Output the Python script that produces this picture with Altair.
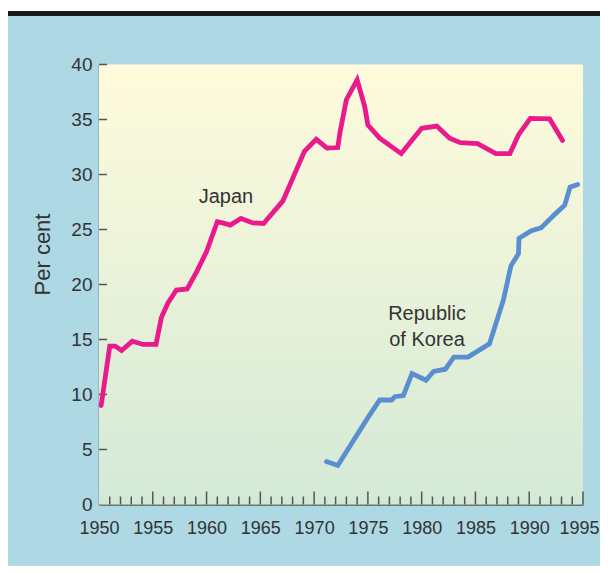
import altair as alt
import pandas as pd

# ---- data ----
japan_years = [1950.2, 1951.0, 1951.5, 1952.1, 1953.1, 1954.1, 1955.3, 1955.8, 1956.4, 1957.2,
               1958.2, 1959.1, 1960.0, 1961.0, 1961.5, 1962.2, 1963.2, 1964.3, 1965.3, 1967.1,
               1968.1, 1969.1, 1970.2, 1971.2, 1972.2, 1972.4, 1973.0, 1974.0, 1974.7, 1975.0,
               1976.1, 1978.1, 1980.0, 1981.4, 1982.6, 1983.6, 1985.2, 1986.9, 1988.2, 1989.0,
               1990.1, 1991.9, 1993.1]
japan_values = [9.0, 14.4, 14.4, 14.0, 14.85, 14.55, 14.55, 17.0, 18.3, 19.5,
                19.6, 21.2, 23.0, 25.7, 25.6, 25.4, 26.0, 25.6, 25.55, 27.6,
                29.85, 32.1, 33.2, 32.4, 32.45, 33.8, 36.8, 38.6, 36.2, 34.5,
                33.3, 31.9, 34.2, 34.4, 33.3, 32.9, 32.8, 31.9, 31.9, 33.6,
                35.1, 35.05, 33.1]

korea_years = [1971.15, 1972.2, 1975.0, 1976.1, 1977.2, 1977.5, 1978.3, 1979.1, 1980.4, 1981.1,
               1982.2, 1983.0, 1984.3, 1986.3, 1987.6, 1988.3, 1989.0, 1989.05, 1990.2, 1991.1,
               1992.4, 1993.3, 1993.8, 1994.5]
korea_values = [3.9, 3.55, 7.9, 9.5, 9.5, 9.8, 9.9, 11.9, 11.3, 12.1,
                12.3, 13.4, 13.4, 14.6, 18.6, 21.7, 22.8, 24.2, 24.9, 25.15,
                26.4, 27.2, 28.85, 29.1]

x_tick_labels = [1950, 1955, 1960, 1965, 1970, 1975, 1980, 1985, 1990, 1995]
y_tick_labels = [0, 5, 10, 15, 20, 25, 30, 35, 40]
minor_years = list(range(1951, 1996))

series_labels = ["Japan", "Republic\nof Korea"]
label_x = [1961.8, 1980.5]
label_y = [27.45, 16.75]

# ---- tables ----
lines_df = pd.DataFrame({
    "year": japan_years + korea_years,
    "value": japan_values + korea_values,
    "series": ["Japan"] * len(japan_years) + ["Republic of Korea"] * len(korea_years),
})
minor_df = pd.DataFrame({"year": [y for y in minor_years if y % 5 != 0]})
major_df = pd.DataFrame({"year": [y for y in minor_years if y % 5 == 0]})
yt_df = pd.DataFrame({"value": [v for v in y_tick_labels if v > 0]})
lab_df = pd.DataFrame({"year": label_x, "value": label_y, "text": series_labels})

W, H = 484, 440
AX = "#555555"
TXT = "#333333"
FONT = "Liberation Sans"

xs = alt.Scale(domain=[1950, 1995], nice=False, zero=False)
ys = alt.Scale(domain=[0, 40], nice=False)

one = pd.DataFrame({"a": [0]})

bg = alt.Chart(one).mark_rect(
    fill=alt.Gradient(
        gradient="linear", x1=0, y1=0, x2=0, y2=1,
        stops=[alt.GradientStop(color="#FFFBDC", offset=0),
               alt.GradientStop(color="#D3E9D7", offset=1)],
    )
).encode(x=alt.value(0), x2=alt.value(W), y=alt.value(0), y2=alt.value(H))

lines = alt.Chart(lines_df).mark_line(strokeWidth=4.8, strokeCap="round", strokeJoin="miter").encode(
    x=alt.X("year:Q", scale=xs, axis=alt.Axis(
        values=x_tick_labels, format="d", title=None, ticks=False, tickSize=0,
        labelFontSize=18, labelFont=FONT, labelColor=TXT, labelPadding=15,
        labelOffset={"condition": {"test": "datum.value == 1995", "value": -4}, "value": 0},
        domainColor=AX, domainWidth=1.5, grid=False, labelFlush=False)),
    y=alt.Y("value:Q", scale=ys, axis=alt.Axis(
        values=y_tick_labels, title=None, ticks=False, tickSize=0,
        labelFontSize=19, labelFont=FONT, labelColor=TXT, labelPadding=7,
        domainColor=AX, domainWidth=1.5, grid=False, labelFlush=False)),
    color=alt.Color("series:N", scale=alt.Scale(
        domain=["Japan", "Republic of Korea"], range=["#EA1A8C", "#5B8ED0"]), legend=None),
    detail="series:N",
)

minor = alt.Chart(minor_df).mark_rule(color=AX, strokeWidth=1.5).encode(
    x=alt.X("year:Q", scale=xs), y=alt.value(H), y2=alt.value(H - 8))
major = alt.Chart(major_df).mark_rule(color=AX, strokeWidth=1.5).encode(
    x=alt.X("year:Q", scale=xs), y=alt.value(H), y2=alt.value(H - 13))
yticks = alt.Chart(yt_df).mark_rule(color=AX, strokeWidth=1.5).encode(
    y=alt.Y("value:Q", scale=ys), x=alt.value(0), x2=alt.value(8))

labels = alt.Chart(lab_df).mark_text(
    font=FONT, fontSize=20, color=TXT, align="center", baseline="alphabetic",
    lineBreak="\n", lineHeight=26,
).encode(x=alt.X("year:Q", scale=xs), y=alt.Y("value:Q", scale=ys), text="text:N")

ytitle = alt.Chart(one).mark_text(
    text="Per cent", font=FONT, fontSize=22, color=TXT, angle=270,
    align="center", baseline="middle",
).encode(x=alt.value(-56), y=alt.value(190))

white_strip = alt.Chart(one).mark_rule(color="white", strokeWidth=3).encode(
    x=alt.value(-91), x2=alt.value(501), y=alt.value(-55))
black_bar = alt.Chart(one).mark_rule(color="#1a1a1a", strokeWidth=5).encode(
    x=alt.value(-91), x2=alt.value(501), y=alt.value(-51))

chart = alt.layer(bg, minor, major, yticks, lines, labels, ytitle, white_strip, black_bar).properties(
    width=W, height=H,
    background="#ADD8E4",
    padding={"left": 91, "top": 56.5, "right": 17, "bottom": 61.5},
    autosize=alt.AutoSizeParams(type="none"),
).configure_view(stroke=None)

chart.save("out.html", embed_options={"renderer": "svg", "actions": False})
